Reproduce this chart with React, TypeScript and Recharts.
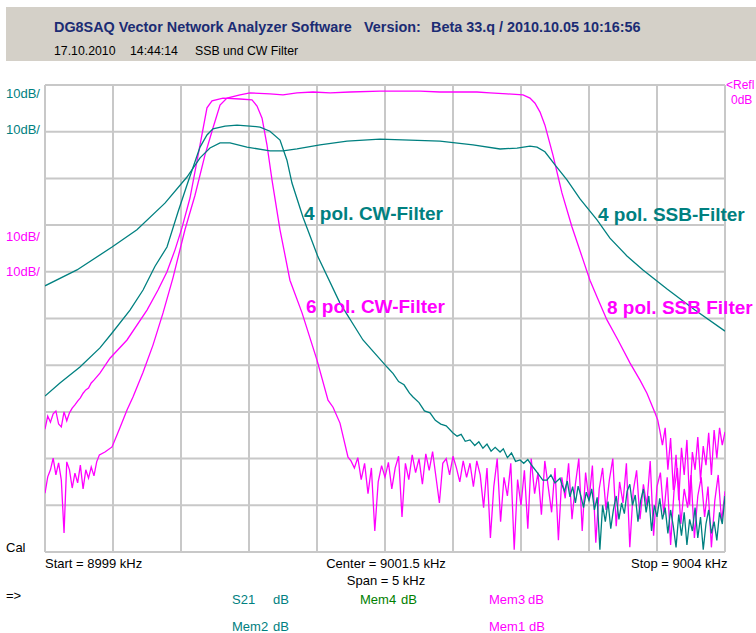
import React from "react";
import { CartesianGrid, Line, LineChart, XAxis, YAxis } from "recharts";

// sweep 8999 .. 9004 kHz, 10 dB/div, reference level 0 dB at top
const FREQ_TICKS = [8999, 8999.5, 9000, 9000.5, 9001, 9001.5, 9002, 9002.5, 9003, 9003.5, 9004];
const DB_TICKS = [-100, -90, -80, -70, -60, -50, -40, -30, -20, -10, 0];

// 4 pol. SSB-Filter (teal, wide)
const ssb4Trace: [number, number][] = [
  [8999.0, -43.0], [8999.235, -39.6], [8999.493, -34.7], [8999.676, -31.0], [8999.882, -25.3],
  [9000.044, -19.7], [9000.14, -15.6], [9000.213, -13.5], [9000.287, -12.4], [9000.36, -12.4],
  [9000.485, -13.3], [9000.654, -14.1], [9000.75, -14.1], [9000.853, -13.7], [9001.022, -12.8],
  [9001.221, -12.0], [9001.463, -11.6], [9001.904, -12.0], [9002.147, -12.8], [9002.346, -13.7],
  [9002.471, -13.5], [9002.566, -13.1], [9002.618, -13.3], [9002.676, -14.3], [9002.75, -17.1],
  [9002.838, -20.3], [9002.934, -24.4], [9003.059, -28.9], [9003.154, -32.8], [9003.279, -36.6],
  [9003.397, -39.6], [9003.574, -43.7], [9003.779, -48.2], [9004.0, -52.7],
];

// 4 pol. CW-Filter (teal, narrow) skirts
const cw4Trace: [number, number][] = [
  [8999.0, -66.6], [8999.11, -63.8], [8999.257, -60.4], [8999.404, -56.3], [8999.493, -53.1],
  [8999.625, -48.2], [8999.721, -43.9], [8999.809, -38.8], [8999.897, -34.7], [8999.978, -27.2],
  [9000.044, -21.4], [9000.14, -13.3], [9000.191, -10.7], [9000.235, -9.4], [9000.324, -8.8],
  [9000.412, -8.6], [9000.507, -8.8], [9000.581, -9.0], [9000.654, -9.9], [9000.728, -11.8],
  [9000.779, -16.1], [9000.816, -21.0], [9000.897, -28.3], [9001.007, -36.8], [9001.169, -46.7],
  [9001.338, -54.6], [9001.515, -60.4], [9001.56, -61.8], [9001.6, -63.5], [9001.64, -64.2],
  [9001.68, -66.0], [9001.706, -66.8], [9001.75, -68.0], [9001.79, -69.8], [9001.831, -70.2],
  [9001.87, -71.8], [9001.91, -72.6], [9001.95, -73.0], [9002.0, -74.5], [9002.03, -75.2],
  [9002.06, -74.8], [9002.09, -76.3], [9002.125, -76.0], [9002.16, -77.2], [9002.19, -76.4],
  [9002.22, -77.8], [9002.25, -76.9], [9002.28, -78.4], [9002.31, -77.6], [9002.346, -78.6],
  [9002.37, -77.9], [9002.4, -79.8], [9002.43, -78.8], [9002.46, -80.6], [9002.493, -80.3],
  [9002.52, -81.0], [9002.55, -80.2], [9002.588, -81.8], [9002.62, -83.0], [9002.66, -84.6],
  [9002.691, -84.6], [9002.72, -83.5], [9002.75, -85.2], [9002.787, -84.2],
];
// noise floor 9002.80 .. 9004.00, 0.02 kHz steps
const cw4Floor = [
  -85.5, -87.0, -84.8, -88.2, -86.0, -89.5, -85.9, -88.0, -90.5, -87.2,
  -89.0, -86.5, -91.0, -88.3, -99.5, -90.0, -93.5, -89.2, -95.0, -90.8,
  -88.0, -93.0, -89.5, -91.8, -87.0, -85.5, -90.0, -87.8, -93.5, -89.0,
  -86.5, -91.5, -88.0, -95.5, -90.0, -92.5, -88.5, -93.0, -90.5, -96.0,
  -91.0, -94.5, -99.0, -92.0, -96.5, -91.5, -98.5, -93.0, -95.5, -90.5,
  -97.0, -92.5, -99.5, -94.0, -91.0, -96.0, -93.5, -97.5, -91.5, -94.0, -88.0,
];

// 6 pol. CW-Filter (magenta, narrow)
const cw6LeftFloor = [
  -73.7, -70.9, -72.2, -70.4, -69.8, -72.6, -73.2, -70.0, -71.9, -70.2,
  -69.2, -68.5, -67.7, -67.0, -66.0, -65.3, -64.9, -63.8, -63.2,
];
const cw6Trace: [number, number][] = [
  [8999.404, -61.7], [8999.478, -58.5], [8999.603, -54.6], [8999.75, -48.2], [8999.831, -43.9],
  [8999.897, -40.0], [8999.956, -35.3], [9000.007, -30.6], [9000.066, -24.2], [9000.14, -12.8],
  [9000.191, -4.9], [9000.228, -3.4], [9000.309, -2.8], [9000.434, -3.0], [9000.522, -3.2],
  [9000.559, -4.5], [9000.596, -7.1], [9000.632, -12.8], [9000.669, -20.3], [9000.728, -31.0],
  [9000.801, -41.8], [9000.89, -48.8], [9001.0, -58.9], [9001.081, -67.5], [9001.118, -69.0],
  [9001.169, -72.4], [9001.228, -79.7],
];
// 9001.25 .. 9004.00, 0.025 kHz steps
const cw6Floor = [
  -80.5, -82.0, -79.8, -84.5, -81.0, -87.5, -82.0, -95.5, -85.0, -81.5,
  -84.0, -80.8, -86.5, -82.0, -79.5, -92.5, -81.0, -84.5, -79.2, -83.0,
  -80.0, -85.5, -79.0, -82.5, -78.5, -84.0, -89.5, -81.0, -80.0, -83.5,
  -79.5, -82.0, -85.0, -80.5, -84.0, -81.0, -86.0, -80.5, -83.5, -90.5,
  -82.0, -97.0, -86.0, -80.0, -93.5, -84.0, -88.0, -81.0, -99.5, -84.5,
  -90.0, -82.5, -95.0, -80.0, -87.5, -83.0, -92.0, -80.5, -86.0, -91.5,
  -82.0, -97.5, -84.0, -88.5, -81.0, -93.0, -85.5, -80.0, -95.5, -83.0,
  -89.0, -81.5, -98.0, -86.5, -82.0, -91.0, -84.5, -80.0, -94.5, -85.0,
  -89.5, -81.0, -99.0, -87.0, -82.5, -93.0, -85.5, -90.0, -80.5, -96.5,
  -86.0, -83.0, -92.0, -84.0, -98.5, -87.0, -82.0, -94.0, -86.5, -90.5,
  -83.5, -97.0, -88.0, -84.0, -92.5, -86.0, -99.0, -89.0, -83.5, -93.5, -87.0,
];

// 8 pol. SSB Filter (magenta, wide)
const ssb8LeftFloor = [
  -87.4, -83.9, -82.4, -79.9, -83.5, -80.9, -84.6, -95.9, -80.7, -82.4,
  -86.3, -83.1, -85.2, -81.4, -86.5, -82.4, -84.2, -81.8, -83.7, -80.7, -79.2,
];
const ssb8Trace: [number, number][] = [
  [8999.441, -78.6], [8999.493, -77.5], [8999.551, -73.4], [8999.603, -69.6], [8999.647, -66.8],
  [8999.721, -61.5], [8999.794, -55.7], [8999.868, -48.8], [8999.941, -41.3], [9000.029, -31.0],
  [9000.103, -23.6], [9000.176, -15.0], [9000.235, -9.2], [9000.287, -4.3], [9000.338, -2.8],
  [9000.434, -2.1], [9000.507, -1.7], [9000.654, -1.9], [9000.75, -2.1], [9000.853, -1.7],
  [9000.971, -1.5], [9001.096, -1.7], [9001.243, -1.5], [9001.463, -1.3], [9001.757, -1.3],
  [9001.904, -1.5], [9002.176, -1.5], [9002.272, -1.7], [9002.397, -1.9], [9002.515, -2.1],
  [9002.566, -2.8], [9002.603, -3.9], [9002.64, -5.8], [9002.676, -8.6], [9002.735, -15.0],
  [9002.801, -23.1], [9002.875, -30.4], [9002.949, -36.8], [9003.007, -41.8], [9003.059, -45.4],
  [9003.132, -50.3], [9003.213, -54.6], [9003.301, -59.5], [9003.375, -63.2], [9003.426, -66.0],
  [9003.485, -70.2], [9003.505, -71.7],
];
const ssb8RightFloor = [
  -73.9, -77.1, -73.4, -82.4, -75.6, -86.7, -79.2, -88.9, -77.7, -83.5,
  -76.0, -89.9, -78.6, -82.4, -75.4, -84.6, -77.3, -81.4, -74.5, -83.5,
  -73.9, -79.9, -73.4, -77.1, -74.3,
];

type Pt = { f: number; db: number };
const pts = (rows: [number, number][]): Pt[] => rows.map(([f, db]) => ({ f, db }));
const sweep = (start: number, step: number, values: number[]): Pt[] =>
  values.map((db, i) => ({ f: +(start + i * step).toFixed(3), db }));

const ssb4 = pts(ssb4Trace);
const cw4 = [...pts(cw4Trace), ...sweep(9002.8, 0.02, cw4Floor)];
const cw6 = [...sweep(8999, 0.02, cw6LeftFloor), ...pts(cw6Trace), ...sweep(9001.25, 0.025, cw6Floor)];
const ssb8 = [...sweep(8999, 0.02, ssb8LeftFloor), ...pts(ssb8Trace), ...sweep(9003.52, 0.02, ssb8RightFloor)];

const TEAL = "#008080";
const MAGENTA = "#ff00ff";
const FONT = "'Liberation Sans', Arial, sans-serif";

function Txt(props: {
  x: number;
  y: number;
  color?: string;
  size?: number;
  bold?: boolean;
  center?: boolean;
  children: React.ReactNode;
}) {
  const size = props.size ?? 13;
  return (
    <div
      style={{
        position: "absolute",
        left: props.x,
        top: props.y - size * 0.62,
        fontSize: size,
        lineHeight: `${size * 1.2}px`,
        fontWeight: props.bold ? "bold" : "normal",
        color: props.color ?? "#000",
        whiteSpace: "pre",
        transform: props.center ? "translateX(-50%)" : undefined,
      }}
    >
      {props.children}
    </div>
  );
}

export default function App() {
  return (
    <div
      style={{
        position: "absolute",
        left: 0,
        top: 0,
        width: 756,
        height: 633,
        overflow: "hidden",
        background: "#fff",
        fontFamily: FONT,
      }}
    >
      <div style={{ position: "absolute", left: 6, top: 7, width: 750, height: 54, background: "#d4d0c8" }} />
      <Txt x={54} y={28} size={14.4} bold color="#1b2c74">DG8SAQ Vector Network Analyzer Software</Txt>
      <Txt x={364} y={28} size={14.4} bold color="#1b2c74">Version:</Txt>
      <Txt x={431} y={28} size={14.4} bold color="#1b2c74">Beta 33.q / 2010.10.05 10:16:56</Txt>
      <Txt x={54} y={52} size={12.3}>17.10.2010</Txt>
      <Txt x={130} y={52} size={12.3}>14:44:14</Txt>
      <Txt x={195} y={52} size={12.3}>SSB und CW Filter</Txt>

      <LineChart
        width={756}
        height={633}
        margin={{ top: 85, left: 45, right: 31, bottom: 81 }}
        style={{ position: "absolute", left: 0, top: 0 }}
      >
        <CartesianGrid stroke="#c8c8c8" strokeWidth={2} />
        <XAxis
          type="number"
          dataKey="f"
          domain={[8999, 9004]}
          ticks={FREQ_TICKS}
          allowDataOverflow
          hide
          height={0}
        />
        <YAxis
          type="number"
          dataKey="db"
          domain={[-100, 0]}
          ticks={DB_TICKS}
          allowDataOverflow
          hide
          width={0}
        />
        <Line data={cw6} dataKey="db" stroke={MAGENTA} strokeWidth={1.3} dot={false} isAnimationActive={false} />
        <Line data={ssb8} dataKey="db" stroke={MAGENTA} strokeWidth={1.3} dot={false} isAnimationActive={false} />
        <Line data={ssb4} dataKey="db" stroke={TEAL} strokeWidth={1.3} dot={false} isAnimationActive={false} />
        <Line data={cw4} dataKey="db" stroke={TEAL} strokeWidth={1.3} dot={false} isAnimationActive={false} />
      </LineChart>

      <Txt x={6} y={94} color={TEAL}>10dB/</Txt>
      <Txt x={6} y={130} color={TEAL}>10dB/</Txt>
      <Txt x={6} y={237} color={MAGENTA}>10dB/</Txt>
      <Txt x={6} y={272} color={MAGENTA}>10dB/</Txt>
      <Txt x={726} y={85} size={12} color={MAGENTA}>{"<Refl"}</Txt>
      <Txt x={731} y={100} size={12} color={MAGENTA}>0dB</Txt>

      <Txt x={304} y={215} size={19} bold color={TEAL}>4 pol. CW-Filter</Txt>
      <Txt x={598} y={216} size={19} bold color={TEAL}>4 pol. SSB-Filter</Txt>
      <Txt x={306} y={308} size={19} bold color={MAGENTA}>6 pol. CW-Filter</Txt>
      <Txt x={607} y={309} size={19} bold color={MAGENTA}>8 pol. SSB Filter</Txt>

      <Txt x={6} y={548}>Cal</Txt>
      <Txt x={45} y={564}>Start = 8999 kHz</Txt>
      <Txt x={386} y={564} center>Center = 9001.5 kHz</Txt>
      <Txt x={386} y={581} center>Span = 5 kHz</Txt>
      <Txt x={631} y={564}>Stop = 9004 kHz</Txt>
      <Txt x={6} y={596}>{"=>"}</Txt>
      <Txt x={232} y={600} color={TEAL}>S21</Txt>
      <Txt x={273} y={600} color={TEAL}>dB</Txt>
      <Txt x={360} y={600} color="#008000">Mem4</Txt>
      <Txt x={401} y={600} color="#008000">dB</Txt>
      <Txt x={489} y={600} color={MAGENTA}>Mem3</Txt>
      <Txt x={528} y={600} color={MAGENTA}>dB</Txt>
      <Txt x={232} y={627} color={TEAL}>Mem2</Txt>
      <Txt x={273} y={627} color={TEAL}>dB</Txt>
      <Txt x={489} y={627} color={MAGENTA}>Mem1</Txt>
      <Txt x={529} y={627} color={MAGENTA}>dB</Txt>
    </div>
  );
}
